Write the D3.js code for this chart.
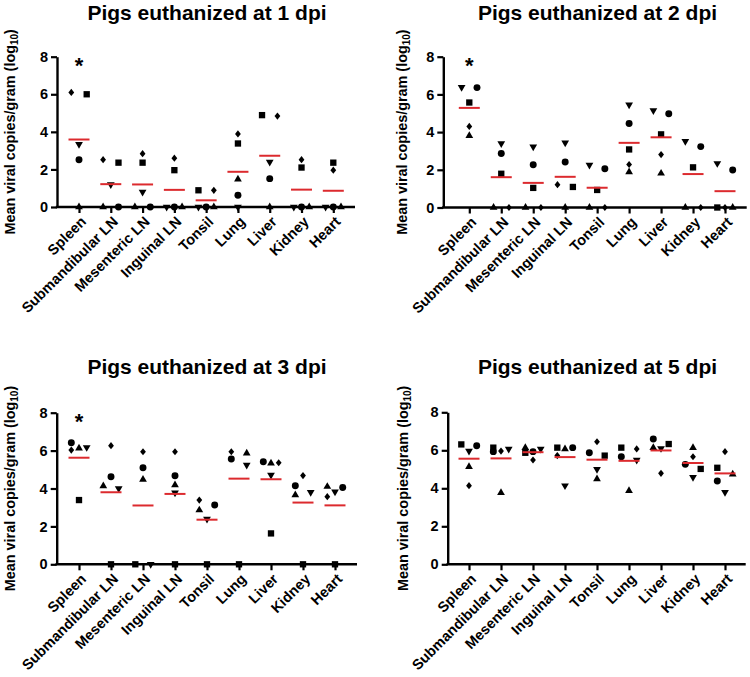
<!DOCTYPE html>
<html><head><meta charset="utf-8">
<script src="https://cdn.jsdelivr.net/npm/d3@7"></script>
<style>
body{margin:0;background:#fff}
svg{display:block}
text{font-family:Arial,"Liberation Sans",Helvetica,sans-serif;font-weight:bold;fill:#000}
</style>
</head><body>
<svg id="c" width="750" height="677"></svg>
<script>
// ---------------- DATA ----------------
const tissues = ["Spleen","Submandibular LN","Mesenteric LN","Inguinal LN","Tonsil","Lung","Liver","Kidney","Heart"];
const titles = ["Pigs euthanized at 1 dpi","Pigs euthanized at 2 dpi","Pigs euthanized at 3 dpi","Pigs euthanized at 5 dpi"];
const yTicks = [0,2,4,6,8];
const significance = ["*","*","*",""];   // mark above Spleen
const sigLevel = 7.8;

// viral load (log10) per pig (marker shape) and tissue
const dpi1_square   = [6.00,2.36,2.36,1.96,0.89,3.38,4.89,2.10,2.36];
const dpi1_triDown  = [3.34,1.20,0.80,0,0,0,2.40,0,0];
const dpi1_triUp    = [0,0,0,0,0,1.48,0,0,0];
const dpi1_circle   = [2.52,0,0,0,0,0.62,1.51,0,0];
const dpi1_diamond  = [6.10,2.52,2.84,2.60,0.89,3.89,4.84,2.52,1.96];

const dpi2_square   = [5.57,1.79,1.04,1.09,0.93,3.08,3.88,2.13,0];
const dpi2_triDown  = [6.38,3.39,3.22,3.43,2.25,5.45,5.15,3.51,2.34];
const dpi2_triUp    = [3.81,0,0,0,0,1.88,1.81,0,0];
const dpi2_circle   = [6.36,2.86,2.27,2.41,2.06,4.46,4.97,3.23,1.99];
const dpi2_diamond  = [4.30,0,0,1.21,0,2.28,2.81,0,0];

const dpi3_square   = [3.39,0,0,0,0,0,1.63,0,0];
const dpi3_triDown  = [6.17,4.00,0,3.78,2.39,5.24,4.71,3.80,3.83];
const dpi3_triUp    = [6.12,4.13,4.48,4.18,2.86,5.86,5.33,3.66,4.10];
const dpi3_circle   = [6.41,4.62,5.10,4.67,3.13,5.56,5.41,4.15,4.05];
const dpi3_diamond  = [6.03,6.26,5.94,5.94,3.39,5.94,5.36,4.68,3.57];

const dpi5_square   = [6.31,6.14,5.87,6.14,5.72,6.14,6.33,5.02,5.08];
const dpi5_triDown  = [5.96,6.07,6.07,4.14,5.00,5.49,6.10,4.58,3.79];
const dpi5_triUp    = [5.14,3.77,6.14,6.07,4.49,3.87,6.14,6.14,4.74];
const dpi5_circle   = [6.24,5.93,5.93,6.14,5.87,5.66,6.60,5.26,4.38];
const dpi5_diamond  = [4.14,5.96,5.49,5.72,6.45,6.07,4.79,5.66,5.93];

const shapeOrder = ["square","triDown","triUp","circle","diamond"];
const panelsData = [
  [dpi1_square,dpi1_triDown,dpi1_triUp,dpi1_circle,dpi1_diamond],
  [dpi2_square,dpi2_triDown,dpi2_triUp,dpi2_circle,dpi2_diamond],
  [dpi3_square,dpi3_triDown,dpi3_triUp,dpi3_circle,dpi3_diamond],
  [dpi5_square,dpi5_triDown,dpi5_triUp,dpi5_circle,dpi5_diamond]
];

// ---------------- LAYOUT ----------------
const layouts = [
  {axL:57,    axR:355,   c0:79,    c1:333.3, y0:207,   y8:56.7,  tx:207,   ty:19.5, lx:15},
  {axL:443.3, axR:746.7, c0:469.3, c1:725,   y0:207.5, y8:56.7,  tx:597.5, ty:19.5, lx:407},
  {axL:56.7,  axR:357,   c0:79,    c1:335,   y0:564.3, y8:412.7, tx:207,   ty:374,  lx:14.5},
  {axL:447.7, axR:745.7, c0:469,   c1:725,   y0:564.3, y8:412.3, tx:597.5, ty:374,  lx:407.5}
];
const meanColor = "#dc2a2e";
const W = 7.7, THR = 7;

const symGen = {
  circle:  d3.symbol(d3.symbolCircle, 38)(),
  square:  d3.symbol(d3.symbolSquare, 40)(),
  triUp:   d3.symbol(d3.symbolTriangle, 26)(),
  triDown: d3.symbol(d3.symbolTriangle, 26)(),
  diamond: "M0,-3.6L2.9,0L0,3.6L-2.9,0Z"
};

function swarm(points){
  const pts = points.slice().sort((a,b)=> (a.py-b.py) || (a.i-b.i));
  const clusters = [];
  let cur = [pts[0]];
  for(let k=1;k<pts.length;k++){
    if(pts[k].py - pts[k-1].py < THR) cur.push(pts[k]);
    else { clusters.push(cur); cur=[pts[k]]; }
  }
  clusters.push(cur);
  const cands = [-W, W, 0, -W/2, W/2];
  clusters.forEach(cl=>{
    if(cl.length===1){ cl[0].dx = 0; return; }
    const placed = [];
    cl.forEach(p=>{
      let best=null, bestD=-1;
      for(const c of cands){
        let md = Infinity;
        placed.forEach(q=>{ md = Math.min(md, Math.hypot(c-q.dx, p.py-q.py)); });
        if(md >= THR){ best=c; bestD=md; break; }
        if(md > bestD){ bestD=md; best=c; }
      }
      p.dx = best; placed.push(p);
    });
  });
  return pts;
}

const svg = d3.select("#c");

layouts.forEach((L, pi)=>{
  const g = svg.append("g");
  const x = d3.scalePoint().domain(tissues).range([L.c0, L.c1]);
  const y = d3.scaleLinear().domain([0,8]).range([L.y0, L.y8]);

  // title
  g.append("text").attr("x", L.tx).attr("y", L.ty).attr("text-anchor","middle")
    .style("font-size","21px").text(titles[pi]);

  // y label
  const yl = g.append("text")
    .attr("transform", `translate(${L.lx},${(L.y0+L.y8)/2}) rotate(-90)`)
    .attr("text-anchor","middle").style("font-size","14.4px");
  yl.append("tspan").text("Mean viral copies/gram (log");
  yl.append("tspan").attr("dy","3").style("font-size","10px").text("10");
  yl.append("tspan").attr("dy","-3").text(")");

  // y axis
  const ya = g.append("g").attr("transform",`translate(${L.axL},0)`)
    .call(d3.axisLeft(y).tickValues(yTicks).tickSize(6).tickSizeOuter(0).tickPadding(3).tickFormat(d3.format("d")));
  ya.select(".domain").attr("stroke","#000").attr("stroke-width",2.4);
  ya.selectAll(".tick line").attr("stroke","#000").attr("stroke-width",2.2);
  ya.selectAll(".tick text").style("font-size","14.5px").style("font-family","Arial, 'Liberation Sans', sans-serif").style("font-weight","bold").attr("fill","#000");

  // x axis
  const xa = g.append("g").attr("transform",`translate(0,${L.y0})`)
    .call(d3.axisBottom(x).tickSize(6).tickSizeOuter(0));
  xa.select(".domain").remove();
  xa.selectAll(".tick line").attr("stroke","#000").attr("stroke-width",2.2);
  xa.selectAll(".tick text")
    .attr("x",0).attr("y",0).attr("dy","0.35em")
    .attr("transform","translate(4,12) rotate(-45)")
    .attr("text-anchor","end")
    .style("font-size","14.5px").style("font-family","Arial, 'Liberation Sans', sans-serif").style("font-weight","bold").attr("fill","#000");
  g.append("line").attr("x1",L.axL-1.2).attr("x2",L.axR).attr("y1",L.y0).attr("y2",L.y0)
    .attr("stroke","#000").attr("stroke-width",2.4);

  // points
  const data = panelsData[pi];
  tissues.forEach((t, ti)=>{
    const pts = shapeOrder.map((s, si)=>({shape:s, v:data[si][ti], py:y(data[si][ti]), i:si}));
    swarm(pts).forEach(p=>{
      g.append("path").attr("d", symGen[p.shape])
        .attr("transform", `translate(${x(t)+p.dx},${p.py})` + (p.shape==="triDown" ? " rotate(180)" : ""))
        .attr("fill","#000");
    });
    const m = d3.mean(shapeOrder.map((s,si)=>data[si][ti]));
    g.append("line").attr("x1", x(t)-10.5).attr("x2", x(t)+10.5)
      .attr("y1", y(m)).attr("y2", y(m))
      .attr("stroke", meanColor).attr("stroke-width", 2);
  });

  // significance mark
  if(significance[pi]){
    g.append("text").attr("x", x("Spleen")).attr("y", y(sigLevel)+13)
      .attr("text-anchor","middle").style("font-size","22px").text(significance[pi]);
  }
});
</script>
</body></html>
